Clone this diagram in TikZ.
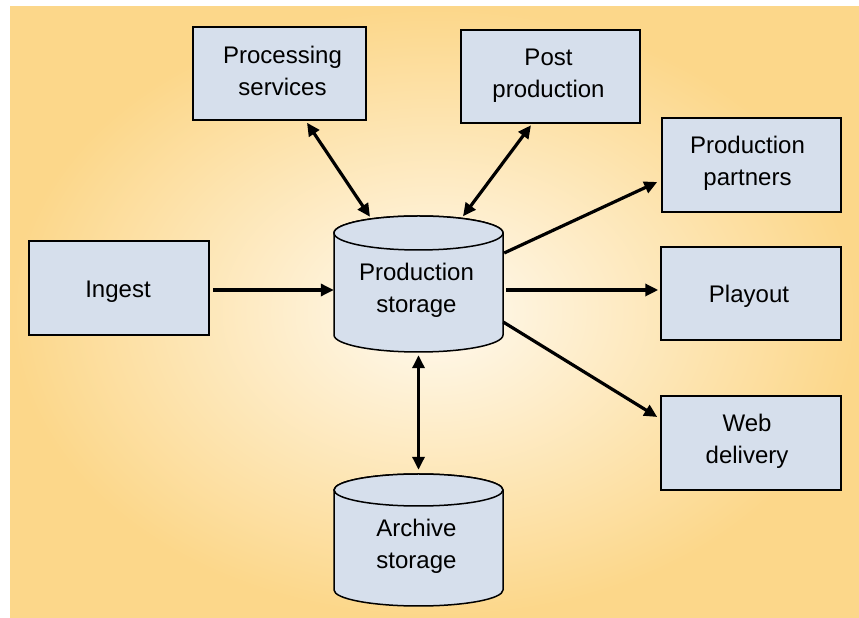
\documentclass[tikz,border=0pt]{standalone}
\usepackage{fontspec}
\setmainfont{Liberation Sans}
\usetikzlibrary{arrows.meta,calc}
\definecolor{boxfill}{RGB}{214,223,236}
\definecolor{bgin}{RGB}{255,250,240}
\definecolor{bgout}{RGB}{252,215,138}
\tikzset{
  box/.style={draw=black, line width=1.5pt, fill=boxfill, minimum width=#1, minimum height=93pt, inner sep=0pt},
  box/.default=180pt,
  lbl/.style={align=center, inner sep=0pt, font=\fontsize{24}{32}\selectfont},
  cylbody/.style={draw=black, line width=1.5pt, fill=boxfill},
  cylhold/.style={draw=none, inner sep=0pt, minimum width=169pt},
  conn/.style={line width=3.2pt, -{Triangle[length=13pt,width=12pt]}},
  bconn/.style={line width=3.2pt, {Triangle[length=13pt,width=12pt]}-{Triangle[length=13pt,width=12pt]}}
}
\begin{document}
\begin{tikzpicture}[x=1pt,y=1pt]
\useasboundingbox (0,0) rectangle (859,618);
\shade[inner color=bgin, outer color=bgout] (10,0) rectangle (859,611);

% boxes
\node[box=173pt] (proc) at (279.5,544.5) {};
\node[lbl] (proctext) at ($(proc)+(3,3)$) {Processing\\services};
\node[box=179pt] (post) at (550.5,541.5) {};
\node[lbl] (posttext) at ($(post)+(-2,1)$) {Post\\production};
\node[box=179pt, minimum height=94pt] (partners) at (751.5,453) {};
\node[lbl] (partnerstext) at ($(partners)+(-4,2)$) {Production\\partners};
\node[box] (playout) at (751,324.5) {};
\node[lbl] (playouttext) at ($(playout)+(-2,-3)$) {Playout};
\node[box, minimum height=94pt] (web) at (751,175) {};
\node[lbl] (webtext) at ($(web)+(-4,2)$) {Web\\delivery};
\node[box, minimum height=94pt] (ingest) at (119,330) {};
\node[lbl] (ingesttext) at ($(ingest)+(-1,-4)$) {Ingest};

% production storage cylinder
\filldraw[cylbody] (334,385) -- (334,283) arc[start angle=180, end angle=360, x radius=84.5, y radius=17] -- (503,385) arc[start angle=0, end angle=180, x radius=84.5, y radius=17] -- cycle;
\draw[cylbody] (418.5,385) ellipse[x radius=84.5, y radius=17];
\node[cylhold, minimum height=136pt] (ps) at (418.5,334) {};
\node[lbl] (pslabel) at (416.5,328) {Production\\storage};

% archive storage cylinder
\filldraw[cylbody] (334,128) -- (334,28) arc[start angle=180, end angle=360, x radius=84.5, y radius=16] -- (503,128) arc[start angle=0, end angle=180, x radius=84.5, y radius=16] -- cycle;
\draw[cylbody] (418.5,128) ellipse[x radius=84.5, y radius=16];
\node[cylhold, minimum height=132pt] (arch) at (418.5,78) {};
\node[lbl] (archlabel) at (416.5,71.5) {Archive\\storage};

% connectors
\draw[conn] ($(ingest.east)+(3,-2)$) -- ($(ingest.east -| ps.west)+(0,-2)$);
\draw[conn] ($(ps.east)+(3,-6)$) -- ($(playout.west)+(-2,3.5)$);
\draw[conn] ($(ps.east)+(1,31)$) -- ($(partners.west)+(-4,-17)$);
\draw[conn] ($(ps.east)+(0,-38)$) -- ($(web.west)+(-3,26)$);
\draw[bconn] ($(proc.south)+(27.5,-2)$) -- ($(ps.north)+(-48.5,-1)$);
\draw[bconn] ($(post.south)+(-19.5,-1.5)$) -- ($(ps.north)+(44.5,-0.5)$);
\draw[bconn] ($(ps.south)+(0,-3)$) -- ($(arch.north)+(0,4)$);
\end{tikzpicture}
\end{document}
